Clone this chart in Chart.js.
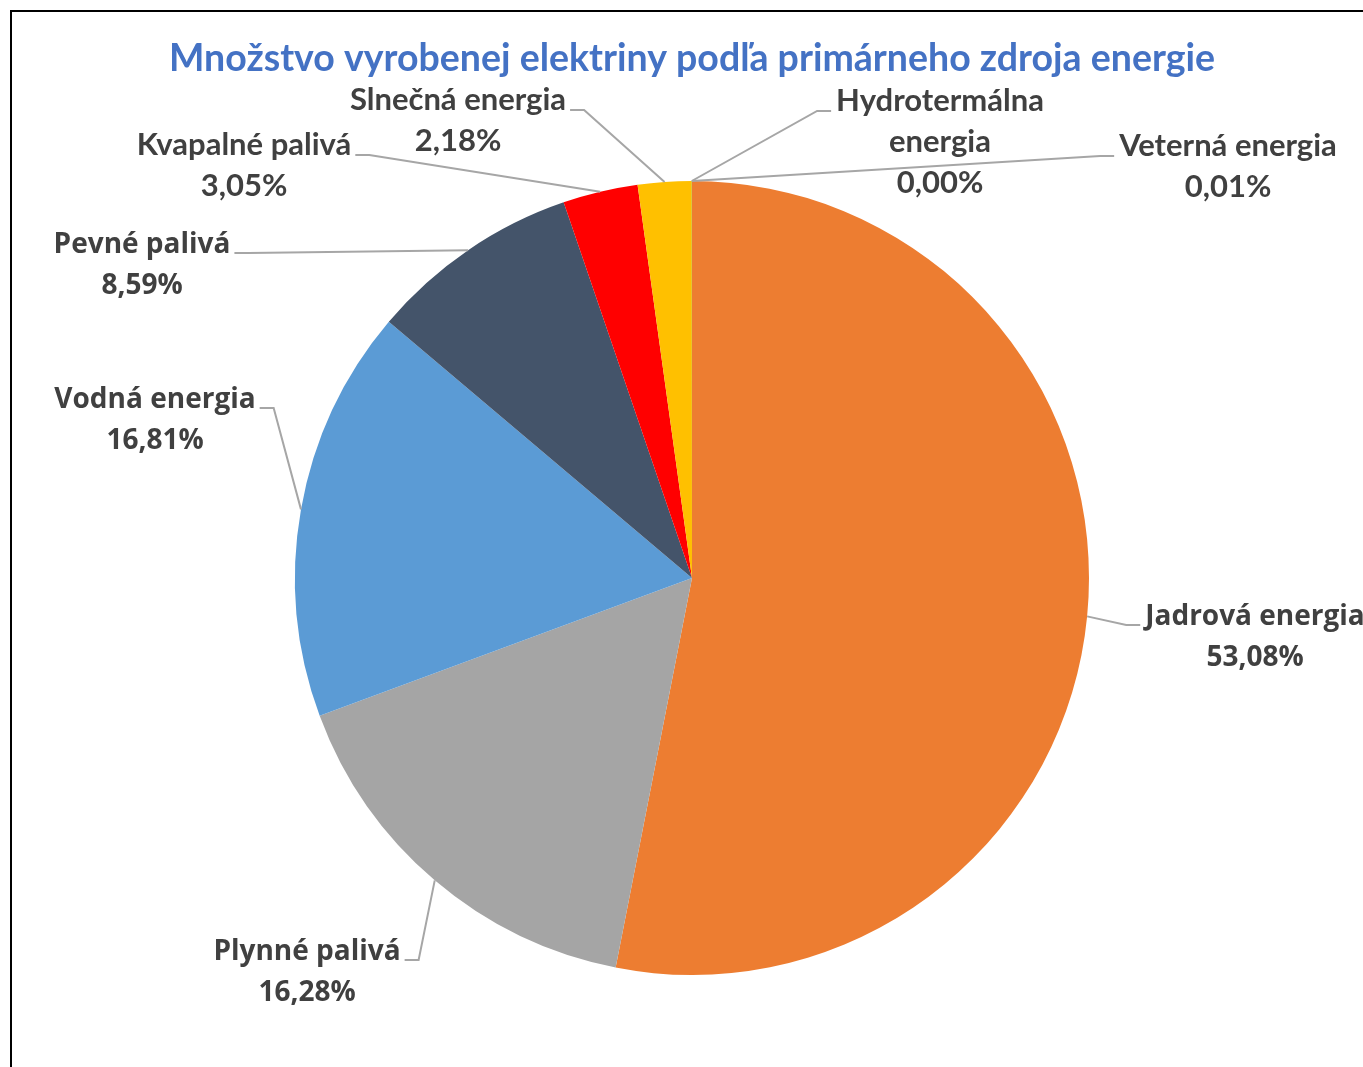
<!DOCTYPE html>
<html><head><meta charset="utf-8">
<script src="https://cdn.jsdelivr.net/npm/chart.js@4.4.1/dist/chart.umd.min.js"></script>
<style>html,body{margin:0;padding:0;background:#fff;overflow:hidden}canvas{display:block}</style>
</head><body>
<canvas id="c" width="1363" height="1067"></canvas>
<script>
const chartTitle = 'Množstvo vyrobenej elektriny podľa primárneho zdroja energie';
const categories = ['Jadrová energia','Plynné palivá','Vodná energia','Pevné palivá','Kvapalné palivá','Slnečná energia','Hydrotermálna energia','Veterná energia'];
const shares = [53.08, 16.28, 16.81, 8.59, 3.05, 2.18, 0.00, 0.01];
const sliceColors = ['#ED7D31','#A5A5A5','#5B9BD5','#44546A','#FF0000','#FFC000','#4472C4','#70AD47'];
const labelLines = [['Jadrová energia'],['Plynné palivá'],['Vodná energia'],['Pevné palivá'],['Kvapalné palivá'],['Slnečná energia'],['Hydrotermálna','energia'],['Veterná energia']];

// label layout (centre x, first baseline y, which text edge the leader joins, font group)
const labelLayout = [
  {cx:1255, by:625, side:'left',  f:'wide'},
  {cx:307,  by:960, side:'right', f:'wide'},
  {cx:155,  by:408, side:'right', f:'wide'},
  {cx:142,  by:253, side:'right', f:'wide'},
  {cx:244,  by:155, side:'right', f:'narrow'},
  {cx:458,  by:110, side:'right', f:'narrow'},
  {cx:940,  by:111, side:'left',  f:'narrow'},
  {cx:1228, by:156, side:'left',  f:'narrow'}
];
const fonts = {wide:'bold 28px "Open Sans"', narrow:'bold 31px Lato'};
const lineGap = 41;

function fmt(v){ return v.toFixed(2).replace('.', ',') + '%'; }

const decor = {
  id:'decor',
  beforeDraw(chart){
    const ctx = chart.ctx;
    ctx.save();
    ctx.fillStyle = '#fff';
    ctx.fillRect(0,0,chart.width,chart.height);
    ctx.fillStyle = '#000';
    ctx.fillRect(10,10,chart.width-10,2);
    ctx.fillRect(10,10,2,chart.height-10);
    ctx.restore();
  },
  afterDraw(chart){
    const ctx = chart.ctx;
    ctx.save();
    ctx.fillStyle = '#4472C4';
    ctx.font = 'bold 37.5px Lato';
    ctx.textAlign = 'center';
    ctx.textBaseline = 'alphabetic';
    ctx.fillText(chartTitle, 692, 71);

    const meta = chart.getDatasetMeta(0);
    meta.data.forEach((arc, i) => {
      const p = arc.getProps(['x','y','startAngle','endAngle','outerRadius'], true);
      const mid = (p.startAngle + p.endAngle) / 2;
      const px = p.x + Math.cos(mid) * p.outerRadius;
      const py = p.y + Math.sin(mid) * p.outerRadius;
      const L = labelLayout[i];
      ctx.font = fonts[L.f];
      const lines = labelLines[i].concat([fmt(shares[i])]);
      const w0 = ctx.measureText(lines[0]).width;
      const ly = L.by;
      let ex, elx;
      if (L.side === 'right') { ex = L.cx + w0/2 + 4; elx = ex + 14; }
      else { ex = L.cx - w0/2 - 5; elx = ex - 14; }
      ctx.strokeStyle = '#A6A6A6';
      ctx.lineWidth = 2;
      ctx.beginPath();
      ctx.moveTo(ex, ly);
      ctx.lineTo(elx, ly);
      ctx.lineTo(px, py);
      ctx.stroke();
      ctx.fillStyle = '#404040';
      ctx.textAlign = 'center';
      lines.forEach((t, k) => ctx.fillText(t, L.cx, ly + k*lineGap));
    });
    ctx.restore();
  }
};

new Chart(document.getElementById('c'), {
  type:'pie',
  data:{labels:categories, datasets:[{data:shares, backgroundColor:sliceColors, borderWidth:0, hoverOffset:0, offset:0}]},
  options:{
    responsive:false, animation:false, devicePixelRatio:1,
    layout:{padding:{left:295, right:274, top:181, bottom:92}},
    plugins:{legend:{display:false}, tooltip:{enabled:false}, title:{display:false}},
    events:[]
  },
  plugins:[decor]
});
</script>
</body></html>
